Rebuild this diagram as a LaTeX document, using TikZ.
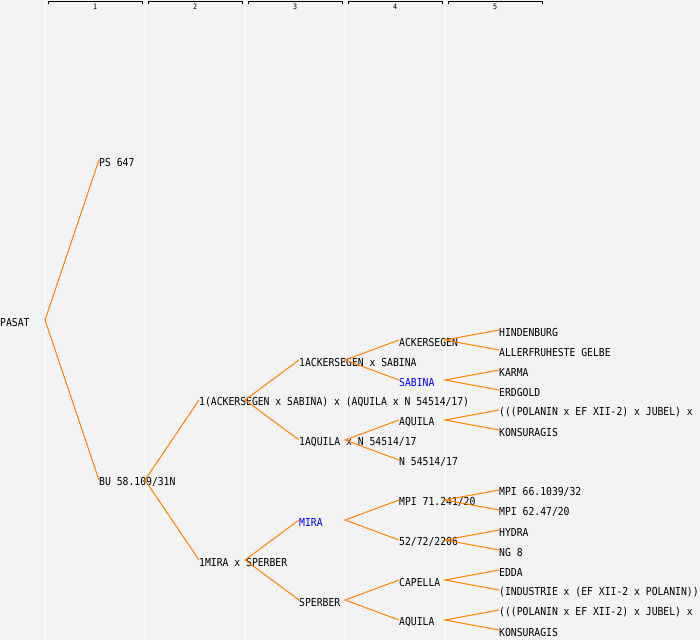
\documentclass[tikz,border=0pt]{standalone}
\usepackage{fontspec}
\setmonofont[FakeStretch=0.886]{DejaVu Sans Mono}
\definecolor{bgcol}{RGB}{243,243,243}
\definecolor{linecol}{RGB}{255,128,0}
\definecolor{namecol}{RGB}{0,0,255}
\tikzset{
  pname/.style={anchor=west,inner sep=0pt,font=\ttfamily\fontsize{11}{12}\selectfont},
  blue name/.style={pname,text=namecol},
  link/.style={draw=linecol,line width=1pt},
  colsep/.style={draw=white,line width=1pt},
  colhead/.style={font=\ttfamily\fontsize{7.5}{8}\selectfont,inner sep=0pt}
}

\begin{document}
\begin{tikzpicture}[x=1pt,y=-1pt]
    \fill[bgcol] (0,0) rectangle (700,640);
    \useasboundingbox (0,0) rectangle (700,640);
    \clip (0,0) rectangle (700,640);
    % column separators and headers
    \draw[colsep] (45,0) -- (45,640);
    \draw[colsep] (145,0) -- (145,640);
    \draw[colsep] (245,0) -- (245,640);
    \draw[colsep] (345,0) -- (345,640);
    \draw[colsep] (445,0) -- (445,640);
    \draw (48,4) -- (48,1.5) -- (142,1.5) -- (142,4);
    \draw (148,4) -- (148,1.5) -- (242,1.5) -- (242,4);
    \draw (248,4) -- (248,1.5) -- (342,1.5) -- (342,4);
    \draw (348,4) -- (348,1.5) -- (442,1.5) -- (442,4);
    \draw (448,4) -- (448,1.5) -- (542,1.5) -- (542,4);
    \node[colhead] (h1) at (95,6.5) {1};
    \node[colhead] (h2) at (195,6.5) {2};
    \node[colhead] (h3) at (295,6.5) {3};
    \node[colhead] (h4) at (395,6.5) {4};
    \node[colhead] (h5) at (495,6.5) {5};

    % generation 0 and 1
    \node[pname] (pasat) at (0,322) {PASAT};
    \node[pname] (ps) at (99,162) {PS 647};
    \node[pname] (bu) at (99,482) {BU 58.109/31N};
    % generation 2
    \node[pname] (ackSab) at (199,402) {1(ACKERSEGEN x SABINA) x (AQUILA x N 54514/17)};
    \node[pname] (miraSp) at (199,562) {1MIRA x SPERBER};
    % generation 3
    \node[pname] (ack1) at (299,362) {1ACKERSEGEN x SABINA};
    \node[pname] (aq1) at (299,442) {1AQUILA x N 54514/17};
    \node[blue name] (mira) at (299,522) {MIRA};
    \node[pname] (sperber) at (299,602) {SPERBER};
    % generation 4
    \node[pname] (acker) at (399,342) {ACKERSEGEN};
    \node[blue name] (sabina) at (399,382) {SABINA};
    \node[pname] (aquilaA) at (399,422) {AQUILA};
    \node[pname] (n545) at (399,462) {N 54514/17};
    \node[pname] (mpi71) at (399,502) {MPI 71.241/20};
    \node[pname] (n52) at (399,542) {52/72/2206};
    \node[pname] (capella) at (399,582) {CAPELLA};
    \node[pname] (aquilaB) at (399,622) {AQUILA};
    % generation 5
    \node[pname] (hind) at (499,332) {HINDENBURG};
    \node[pname] (allerf) at (499,352) {ALLERFRUHESTE GELBE};
    \node[pname] (karma) at (499,372) {KARMA};
    \node[pname] (erdgold) at (499,392) {ERDGOLD};
    \node[pname] (polA) at (499,412) {(((POLANIN x EF XII-2) x JUBEL) x};
    \node[pname] (konsA) at (499,432) {KONSURAGIS};
    \node[pname] (mpi66) at (499,492) {MPI 66.1039/32};
    \node[pname] (mpi62) at (499,512) {MPI 62.47/20};
    \node[pname] (hydra) at (499,532) {HYDRA};
    \node[pname] (ng8) at (499,552) {NG 8};
    \node[pname] (edda) at (499,572) {EDDA};
    \node[pname] (indus) at (499,592) {(INDUSTRIE x (EF XII-2 x POLANIN))};
    \node[pname] (polB) at (499,612) {(((POLANIN x EF XII-2) x JUBEL) x};
    \node[pname] (konsB) at (499,632) {KONSURAGIS};

    % forks
    \coordinate (pasat-v) at (45,320);
    \coordinate (bu-v) at (145,480);
    \coordinate (ackSab-v) at (245,400);
    \coordinate (miraSp-v) at (245,560);
    \coordinate (ack1-v) at (345,360);
    \coordinate (aq1-v) at (345,440);
    \coordinate (mira-v) at (345,520);
    \coordinate (sperber-v) at (345,600);
    \coordinate (acker-v) at (445,340);
    \coordinate (sabina-v) at (445,380);
    \coordinate (aquilaA-v) at (445,420);
    \coordinate (mpi71-v) at (445,500);
    \coordinate (n52-v) at (445,540);
    \coordinate (capella-v) at (445,580);
    \coordinate (aquilaB-v) at (445,620);

    \draw[link] ([yshift=2pt]ps.west) -- (pasat-v) -- ([yshift=2pt]bu.west);
    \draw[link] ([yshift=2pt]ackSab.west) -- (bu-v) -- ([yshift=2pt]miraSp.west);
    \draw[link] ([yshift=2pt]ack1.west) -- (ackSab-v) -- ([yshift=2pt]aq1.west);
    \draw[link] ([yshift=2pt]mira.west) -- (miraSp-v) -- ([yshift=2pt]sperber.west);
    \draw[link] ([yshift=2pt]acker.west) -- (ack1-v) -- ([yshift=2pt]sabina.west);
    \draw[link] ([yshift=2pt]aquilaA.west) -- (aq1-v) -- ([yshift=2pt]n545.west);
    \draw[link] ([yshift=2pt]mpi71.west) -- (mira-v) -- ([yshift=2pt]n52.west);
    \draw[link] ([yshift=2pt]capella.west) -- (sperber-v) -- ([yshift=2pt]aquilaB.west);
    \draw[link] ([yshift=2pt]hind.west) -- (acker-v) -- ([yshift=2pt]allerf.west);
    \draw[link] ([yshift=2pt]karma.west) -- (sabina-v) -- ([yshift=2pt]erdgold.west);
    \draw[link] ([yshift=2pt]polA.west) -- (aquilaA-v) -- ([yshift=2pt]konsA.west);
    \draw[link] ([yshift=2pt]mpi66.west) -- (mpi71-v) -- ([yshift=2pt]mpi62.west);
    \draw[link] ([yshift=2pt]hydra.west) -- (n52-v) -- ([yshift=2pt]ng8.west);
    \draw[link] ([yshift=2pt]edda.west) -- (capella-v) -- ([yshift=2pt]indus.west);
    \draw[link] ([yshift=2pt]polB.west) -- (aquilaB-v) -- ([yshift=2pt]konsB.west);
  \end{tikzpicture}
\end{document}
